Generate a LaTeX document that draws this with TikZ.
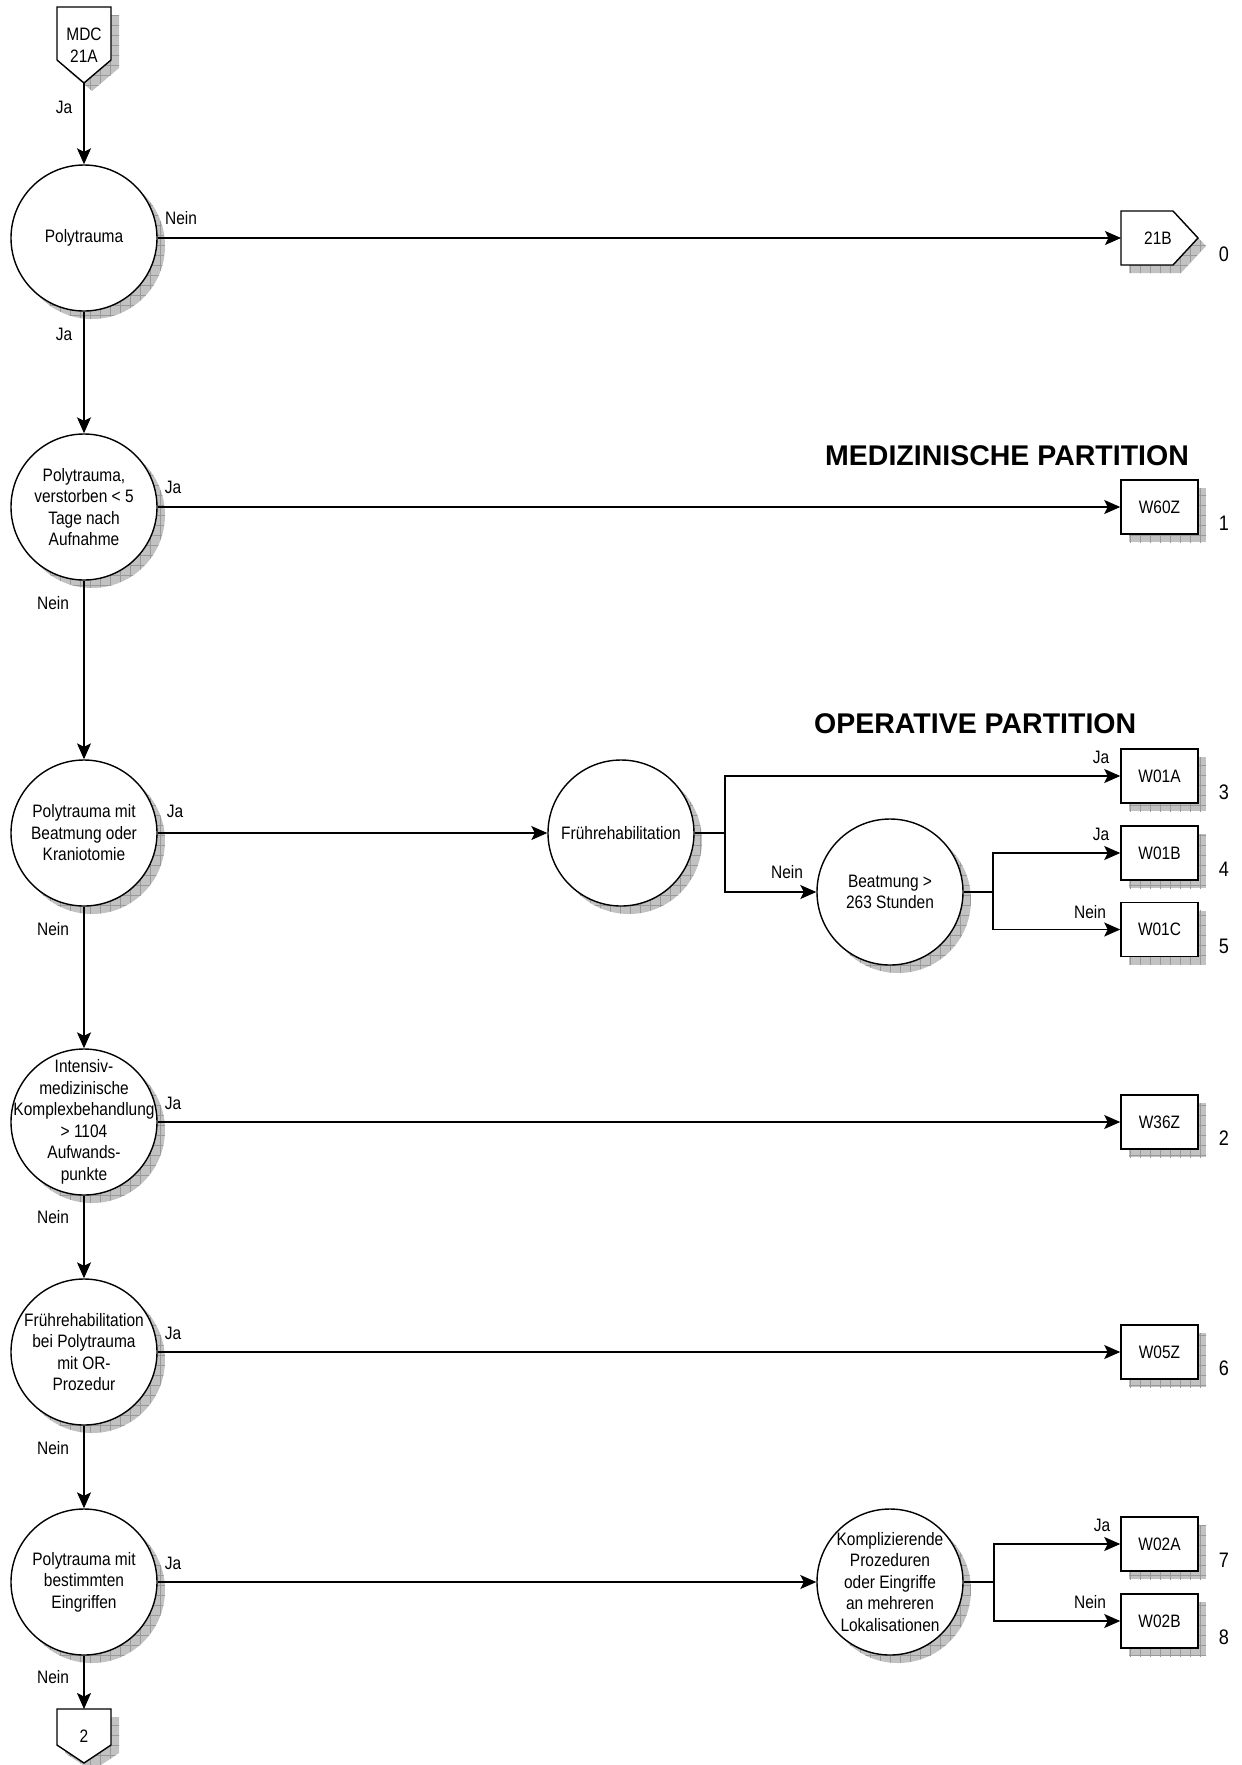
\documentclass[tikz,border=0pt]{standalone}
\usepackage{fontspec}
\setmainfont{Liberation Sans}[FakeStretch=0.86]
\newfontfamily\titlefont{Liberation Sans}
\usetikzlibrary{arrows.meta,shadows,patterns.meta}
\begin{document}
\begin{tikzpicture}[x=1pt,y=-1pt,
  every node/.style={font=\fontsize{18}{21.5}\selectfont, inner sep=0pt},
  shadpat/.style={fill=black!24,
    postaction={pattern={Lines[distance=10pt,angle=0,line width=0.5pt]}, pattern color=black!40},
    postaction={pattern={Lines[distance=10pt,angle=90,line width=0.5pt]}, pattern color=black!40}},
  dsh/.style={drop shadow={shadow xshift=8pt, shadow yshift=-8pt, opacity=1, shadpat}},
  cnode/.style={circle, draw, line width=1.4pt, fill=white, minimum size=146pt, dsh},
  ctext/.style={align=center},
  bnode/.style={rectangle, draw, line width=1.5pt, fill=white, minimum width=77pt, minimum height=54pt, dsh},
  shp/.style={draw, line width=1.4pt, fill=white},
  arr/.style={-{Stealth[length=16pt,width=14pt,inset=3.5pt]}, line width=1.4pt},
  ln/.style={line width=1.4pt},
  lab/.style={},
  num/.style={font=\fontsize{21}{24}\selectfont},
  ttl/.style={anchor=base west, font=\titlefont\bfseries\fontsize{28.5}{32}\selectfont}]
\useasboundingbox (0,0) rectangle (1242,1765);

% --- pentagon MDC 21A ---
\path[shadpat, shift={(8,8)}] (57,7) -- (111,7) -- (111,60) -- (84,83) -- (57,60) -- cycle;
\path[shp] (57,7) -- (111,7) -- (111,60) -- (84,83) -- (57,60) -- cycle;
\node[align=center] (mdc) at (84,45) {MDC\\21A};
\coordinate (mdctip) at (84,83);

% --- 21B ---
\path[shadpat, shift={(8,8)}] (1121,211) -- (1173,211) -- (1198,238) -- (1173,265) -- (1121,265) -- cycle;
\path[shp] (1121,211) -- (1173,211) -- (1198,238) -- (1173,265) -- (1121,265) -- cycle;
\node (b21) at (1158,238) {21B};
\coordinate (b21in) at (1121,238);

% --- pentagon 2 ---
\path[shadpat, shift={(8,8)}] (57,1709) -- (111,1709) -- (111,1745) -- (84,1763) -- (57,1745) -- cycle;
\path[shp] (57,1709) -- (111,1709) -- (111,1745) -- (84,1763) -- (57,1745) -- cycle;
\node (p2) at (84,1736) {2};
\coordinate (p2top) at (84,1709);

% --- main column ---
\node[cnode] (c1) at (84,238) {};
\node[ctext] (c1t) at (c1) {Polytrauma};
\node[cnode] (c2) at (84,507) {};
\node[ctext] (c2t) at (c2) {Polytrauma,\\verstorben < 5\\Tage nach\\Aufnahme};
\node[cnode] (c3) at (84,833) {};
\node[ctext] (c3t) at (c3) {Polytrauma mit\\Beatmung oder\\Kraniotomie};
\node[cnode] (c4) at (84,1122) {};
\node[ctext] (c4t) at (c4) {Intensiv-\\medizinische\\Komplexbehandlung\\> 1104\\Aufwands-\\punkte};
\node[cnode] (c5) at (84,1352) {};
\node[ctext] (c5t) at (c5) {Frührehabilitation\\bei Polytrauma\\mit OR-\\Prozedur};
\node[cnode] (c6) at (84,1582) {};
\node[ctext] (c6t) at (c6) {Polytrauma mit\\bestimmten\\Eingriffen};

% --- middle circles ---
\node[cnode] (fr) at (621,833) {};
\node[ctext] (frt) at (fr) {Frührehabilitation};
\node[cnode] (beat) at (890,892) {};
\node[ctext] (beatt) at (beat) {Beatmung >\\263 Stunden};
\node[cnode] (kompl) at (890,1582) {};
\node[ctext] (komplt) at (kompl) {Komplizierende\\Prozeduren\\oder Eingriffe\\an mehreren\\Lokalisationen};

% --- result boxes ---
\node[bnode] (w60z) at (1159.5,507) {W60Z};
\node[bnode] (w01a) at (1159.5,776) {W01A};
\node[bnode] (w01b) at (1159.5,853) {W01B};
\node[bnode] (w01c) at (1159.5,929.5) {W01C};
\node[bnode] (w36z) at (1159.5,1122) {W36Z};
\node[bnode] (w05z) at (1159.5,1352) {W05Z};
\node[bnode] (w02a) at (1159.5,1544) {W02A};
\node[bnode] (w02b) at (1159.5,1621) {W02B};

% --- numbers ---
\node[num] (n0) at (1224,254) {0};
\node[num] (n1) at (1224,523) {1};
\node[num] (n3) at (1224,792) {3};
\node[num] (n4) at (1224,869) {4};
\node[num] (n5) at (1224,946) {5};
\node[num] (n2) at (1224,1138) {2};
\node[num] (n6) at (1224,1368) {6};
\node[num] (n7) at (1224,1560) {7};
\node[num] (n8) at (1224,1637) {8};

% --- titles ---
\node[ttl] (tmed) at (825,465) {MEDIZINISCHE PARTITION};
\node[ttl] (top) at (814,733) {OPERATIVE PARTITION};

% --- branch coordinates ---
\coordinate (frb) at (725,833);
\coordinate (beb) at (993,892);
\coordinate (kob) at (994,1582);

% --- connectors ---
\draw[arr] (mdctip) -- (c1.north);
\draw[arr] (c1.east) -- (b21in);
\draw[arr] (c1.south) -- (c2.north);
\draw[arr] (c2.east) -- (w60z.west);
\draw[arr] (c2.south) -- (c3.north);
\draw[arr] (c3.east) -- (fr.west);
\draw[ln] (fr.east) -- (frb);
\draw[arr] (frb) |- (w01a.west);
\draw[arr] (frb) |- (beat.west);
\draw[ln] (beat.east) -- (beb);
\draw[arr] (beb) |- (w01b.west);
\draw[arr] (beb) |- (w01c.west);
\draw[arr] (c3.south) -- (c4.north);
\draw[arr] (c4.east) -- (w36z.west);
\draw[arr] (c4.south) -- (c5.north);
\draw[arr] (c5.east) -- (w05z.west);
\draw[arr] (c5.south) -- (c6.north);
\draw[arr] (c6.east) -- (kompl.west);
\draw[ln] (kompl.east) -- (kob);
\draw[arr] (kob) |- (w02a.west);
\draw[arr] (kob) |- (w02b.west);
\draw[arr] (c6.south) -- (p2top);

% --- labels ---
\node[lab] (l0) at (64,107) {Ja};
\node[lab] (l1) at (181,218) {Nein};
\node[lab] (l2) at (64,334) {Ja};
\node[lab] (l3) at (173,487) {Ja};
\node[lab] (l4) at (53,603) {Nein};
\node[lab] (l5) at (175,811) {Ja};
\node[lab] (l6) at (53,929) {Nein};
\node[lab] (l7) at (173,1103) {Ja};
\node[lab] (l8) at (53,1217) {Nein};
\node[lab] (l9) at (173,1333) {Ja};
\node[lab] (l10) at (53,1448) {Nein};
\node[lab] (l11) at (173,1563) {Ja};
\node[lab] (l12) at (53,1677) {Nein};
\node[lab] (l13) at (1101,757) {Ja};
\node[lab] (l14) at (787,872) {Nein};
\node[lab] (l15) at (1101,834) {Ja};
\node[lab] (l16) at (1090,912) {Nein};
\node[lab] (l17) at (1102,1525) {Ja};
\node[lab] (l18) at (1090,1602) {Nein};
\end{tikzpicture}
\end{document}
